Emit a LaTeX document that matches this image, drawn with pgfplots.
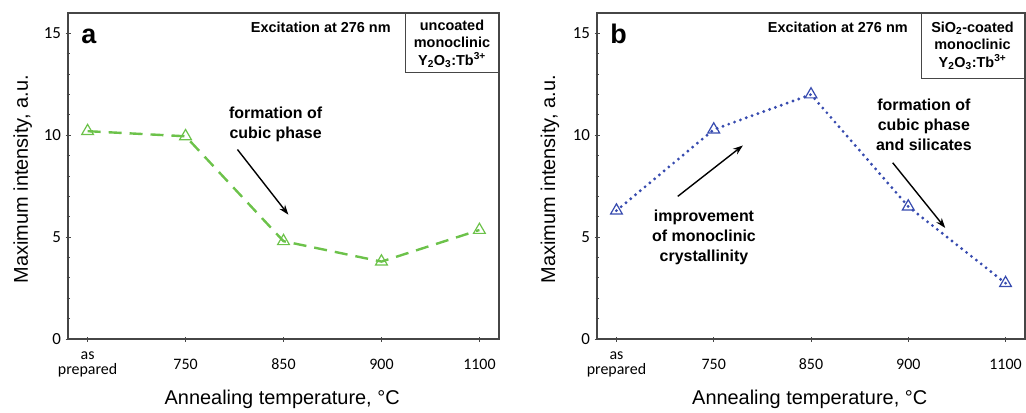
\documentclass[border=0pt]{standalone}
\usepackage{fontspec}
\setmainfont{Liberation Sans}
\newfontfamily\tickfont{Carlito}
\usepackage{pgfplots}
\pgfplotsset{compat=1.18}
\usetikzlibrary{arrows.meta}
\definecolor{lgreen}{RGB}{108,194,74}
\definecolor{dblue}{RGB}{55,75,175}
\definecolor{axgray}{RGB}{70,70,70}

\pgfplotsset{
  panel/.style={
    scale only axis,
    width=#1, height=326bp,
    xmin=-0.2, xmax=4.2,
    ymin=0, ymax=16,
    xtick={0,1,2,3,4},
    xticklabels={as\\prepared,750,850,900,1100},
    ytick={0,5,10,15},
    minor y tick num=4,
    /pgf/number format/assume math mode=true,
    axis line style={axgray, line width=1.1bp},
    every tick/.style={axgray, line width=0.8bp},
    major tick length=5bp, minor tick length=3bp,
    tick align=center,
    xtick pos=bottom, ytick pos=left,
    x tick label style={font=\tickfont\fontsize{16}{14.5}\selectfont, align=center, anchor=center, yshift=-23bp},
    y tick label style={font=\tickfont\fontsize{17}{17}\selectfont, xshift=-1bp},
    label style={font=\fontsize{20}{20}\selectfont},
    xlabel={Annealing temperature, °C},
    ylabel={Maximum intensity, a.u.},
    xlabel style={at={(axis description cs:0.497,-0.184)}, anchor=center},
    ylabel style={at={(axis description cs:-0.105,0.49)}, anchor=center},
    clip=false,
  },
}
\tikzset{
  annot/.style={font=\bfseries\fontsize{16}{20}\selectfont, align=center},
  boxtxt/.style={font=\bfseries\fontsize{14.5}{17.5}\selectfont, align=center},
}

\begin{document}
\begin{tikzpicture}[x=1bp,y=1bp]
\path[use as bounding box] (0,0) rectangle (1026,412);

% panel a
\begin{axis}[panel=431bp, at={(68bp,73bp)}, anchor=south west]
\addplot[lgreen, line width=2.4bp, dash pattern=on 13bp off 8bp,
  mark=triangle, mark size=6.8bp, mark options={solid, line width=1.2bp, fill=white}]
  coordinates {(0,10.2) (1,9.95) (2,4.8) (3,3.8) (4,5.35)};
\node[font=\bfseries\fontsize{27}{27}\selectfont, anchor=base west] at (axis cs:-0.1,14.5) {a};
\node[font=\bfseries\fontsize{14.5}{14.5}\selectfont, anchor=base east] at (axis cs:3.13,15.05) {Excitation at 276 nm};
\draw[axgray, line width=0.8bp] (axis cs:3.245,16) -- (axis cs:3.245,13.08) -- (axis cs:4.2,13.08);
\node[boxtxt, anchor=center] at (axis cs:3.72,14.5) {uncoated\\monoclinic\\Y\textsubscript{2}O\textsubscript{3}:Tb\textsuperscript{3+}};
\node[annot] at (axis cs:1.92,10.55) {formation of\\cubic phase};
\draw[-{Stealth[length=10bp,width=7bp]}, line width=1.4bp] (axis cs:1.53,9.3) -- (axis cs:2.05,6.1);
\end{axis}

% panel b
\begin{axis}[panel=428bp, at={(597bp,73bp)}, anchor=south west,
  ylabel style={at={(axis description cs:-0.11,0.49)}}]
\addplot[dblue, line width=3.2bp, dash pattern=on 0bp off 6.2bp, line cap=round,
  mark=triangle, mark size=6.8bp, mark options={solid, line width=1.2bp, fill=white}]
  coordinates {(0,6.3) (1,10.28) (2,12.0) (3,6.5) (4,2.74)};
\node[font=\bfseries\fontsize{27}{27}\selectfont, anchor=base west] at (axis cs:-0.1,14.5) {b};
\node[font=\bfseries\fontsize{14.5}{14.5}\selectfont, anchor=base east] at (axis cs:3.03,15.05) {Excitation at 276 nm};
\draw[axgray, line width=0.8bp] (axis cs:3.13,16) -- (axis cs:3.13,12.8) -- (axis cs:4.2,12.8);
\node[boxtxt, anchor=center] at (axis cs:3.66,14.4) {SiO\textsubscript{2}-coated\\monoclinic\\Y\textsubscript{2}O\textsubscript{3}:Tb\textsuperscript{3+}};
\node[annot] at (axis cs:0.9,5.0) {improvement\\of monoclinic\\crystallinity};
\draw[-{Stealth[length=10bp,width=7bp]}, line width=1.4bp] (axis cs:0.63,7.0) -- (axis cs:1.30,9.5);
\node[annot] at (axis cs:3.16,10.5) {formation of\\cubic phase\\and silicates};
\draw[-{Stealth[length=10bp,width=7bp]}, line width=1.4bp] (axis cs:2.84,8.65) -- (axis cs:3.38,5.45);
\end{axis}
\end{tikzpicture}
\end{document}
